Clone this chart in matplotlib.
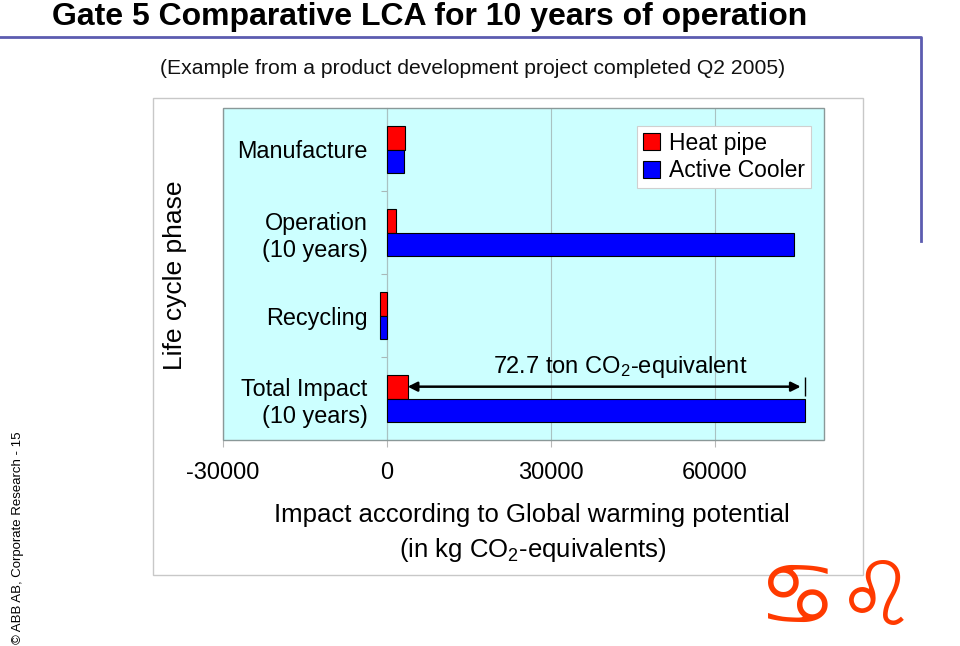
import matplotlib
matplotlib.use('Agg')
import matplotlib.pyplot as plt
import numpy as np
from matplotlib.patches import Rectangle
from matplotlib.lines import Line2D

plt.rcParams['font.family'] = ['Liberation Sans', 'DejaVu Sans']
plt.rcParams['mathtext.fontset'] = 'custom'
plt.rcParams['mathtext.rm'] = 'Liberation Sans'
plt.rcParams['mathtext.it'] = 'Liberation Sans:italic'
plt.rcParams['mathtext.bf'] = 'Liberation Sans:bold'

# ---------------- data ----------------
categories = ['Manufacture', 'Operation\n(10 years)', 'Recycling', 'Total Impact\n(10 years)']
heat_pipe = [3300, 1700, -1250, 3800]
active_cooler = [3100, 74600, -1200, 76500]
series_names = ['Heat pipe', 'Active Cooler']
x_ticks = [-30000, 0, 30000, 60000]
x_limits = (-30000, 80000)
difference_label = '72.7 ton CO$_2$-equivalent'
title = 'Gate 5 Comparative LCA for 10 years of operation'
subtitle = '(Example from a product development project completed Q2 2005)'
y_label = 'Life cycle phase'
x_label_1 = 'Impact according to Global warming potential'
x_label_2 = '(in kg CO$_2$-equivalents)'
footer = '\u00a9 ABB AB, Corporate Research - 15'
logo = '\u264b\u264c'

W, H = 960, 646
fig = plt.figure(figsize=(W / 100, H / 100), dpi=100)


def fx(px):
    return px / W


def fy(py):
    return 1 - py / H


ax = fig.add_axes([fx(223), fy(440), fx(824) - fx(223), fy(108) - fy(440)])
ax.set_facecolor('#ccffff')
y = np.arange(len(categories))
bh = 0.285
ax.barh(y - bh / 2, heat_pipe, height=bh, color='#ff0000', edgecolor='black',
        linewidth=0.8, label=series_names[0], zorder=3)
ax.barh(y + bh / 2, active_cooler, height=bh, color='#0000ff', edgecolor='black',
        linewidth=0.8, label=series_names[1], zorder=3)
ax.set_xlim(*x_limits)
ax.set_ylim(len(categories) - 0.5, -0.5)
ax.set_xticks(x_ticks)
ax.set_xticklabels([str(v) for v in x_ticks])
ax.set_yticks(y)
ax.set_yticklabels(categories)
for t in ax.get_yticklabels():
    t.set_multialignment('center')
ax.set_yticks(y[:-1] + 0.5, minor=True)

ax.grid(axis='x', color='#a9c2c2', lw=0.8, zorder=0)
ax.spines['left'].set_position(('data', 0))
ax.spines['left'].set_color('#a9c2c2')
ax.spines['left'].set_linewidth(0.8)
for s in ['top', 'right', 'bottom']:
    ax.spines[s].set_visible(False)
ax.add_patch(Rectangle((0, 0), 1, 1, transform=ax.transAxes, fill=False,
                       edgecolor='#8a9898', lw=1, clip_on=False, zorder=4))

ax.tick_params(axis='x', length=5, color='#b8b8b8', width=0.8, pad=11, labelsize=17)
ax.tick_params(axis='y', which='major', length=0, pad=14, labelsize=16.8)
ax.tick_params(axis='y', which='minor', length=4, color='#a9b8b8', width=0.8)

# difference annotation
yt = y[-1] - bh / 2
ax.annotate('', xy=(heat_pipe[-1], yt), xytext=(active_cooler[-1], yt),
            arrowprops=dict(arrowstyle='<|-|>', color='black', lw=1.8,
                            mutation_scale=14, shrinkA=3, shrinkB=0), zorder=5)
ax.vlines(active_cooler[-1], y[-1] - bh * 0.92, y[-1] - bh * 0.12, color='black', lw=1, zorder=5)
ax.annotate(difference_label, xy=((heat_pipe[-1] + active_cooler[-1]) / 2, yt),
            xytext=(10, 14.5), textcoords='offset points', ha='center', va='center',
            fontsize=17, zorder=5)

leg = ax.legend(loc='upper right', bbox_to_anchor=(fx(811), fy(126)),
                bbox_transform=fig.transFigure, frameon=True, fancybox=False,
                edgecolor='#d0d0d0', facecolor='white', framealpha=1, fontsize=16.5,
                handlelength=0.75, handleheight=0.75, handletextpad=0.4,
                borderpad=0.25, labelspacing=0.2, borderaxespad=0)
leg.get_frame().set_linewidth(0.8)

# figure decorations
fig.patches.append(Rectangle((fx(153), fy(575)), fx(863) - fx(153), fy(98) - fy(575),
                             transform=fig.transFigure, fill=False, edgecolor='#c8c8c8', lw=1))
fig.add_artist(Line2D([0, fx(921), fx(921)], [fy(37), fy(37), fy(241)],
                      color='#5c5cb0', lw=2, transform=fig.transFigure))

fig.text(fx(52), fy(25), title, fontsize=23, fontweight='bold', ha='left', va='baseline')
fig.text(fx(160), fy(69), subtitle, fontsize=15.2, ha='left', va='center', color='#111111')
fig.text(fx(175), fy(275), y_label, fontsize=19, rotation=90, ha='center', va='center')
fig.text(fx(532), fy(515), x_label_1, fontsize=18.5, ha='center', va='center')
fig.text(fx(533), fy(550), x_label_2, fontsize=18.5, ha='center', va='center')
fig.text(fx(18), fy(538), footer, fontsize=9.5, rotation=90, ha='center', va='center')
fig.text(fx(758), fy(644), logo, fontsize=64, color='#ff3a00', family='DejaVu Sans',
         ha='left', va='bottom')

fig.savefig('out.png', dpi=100)
